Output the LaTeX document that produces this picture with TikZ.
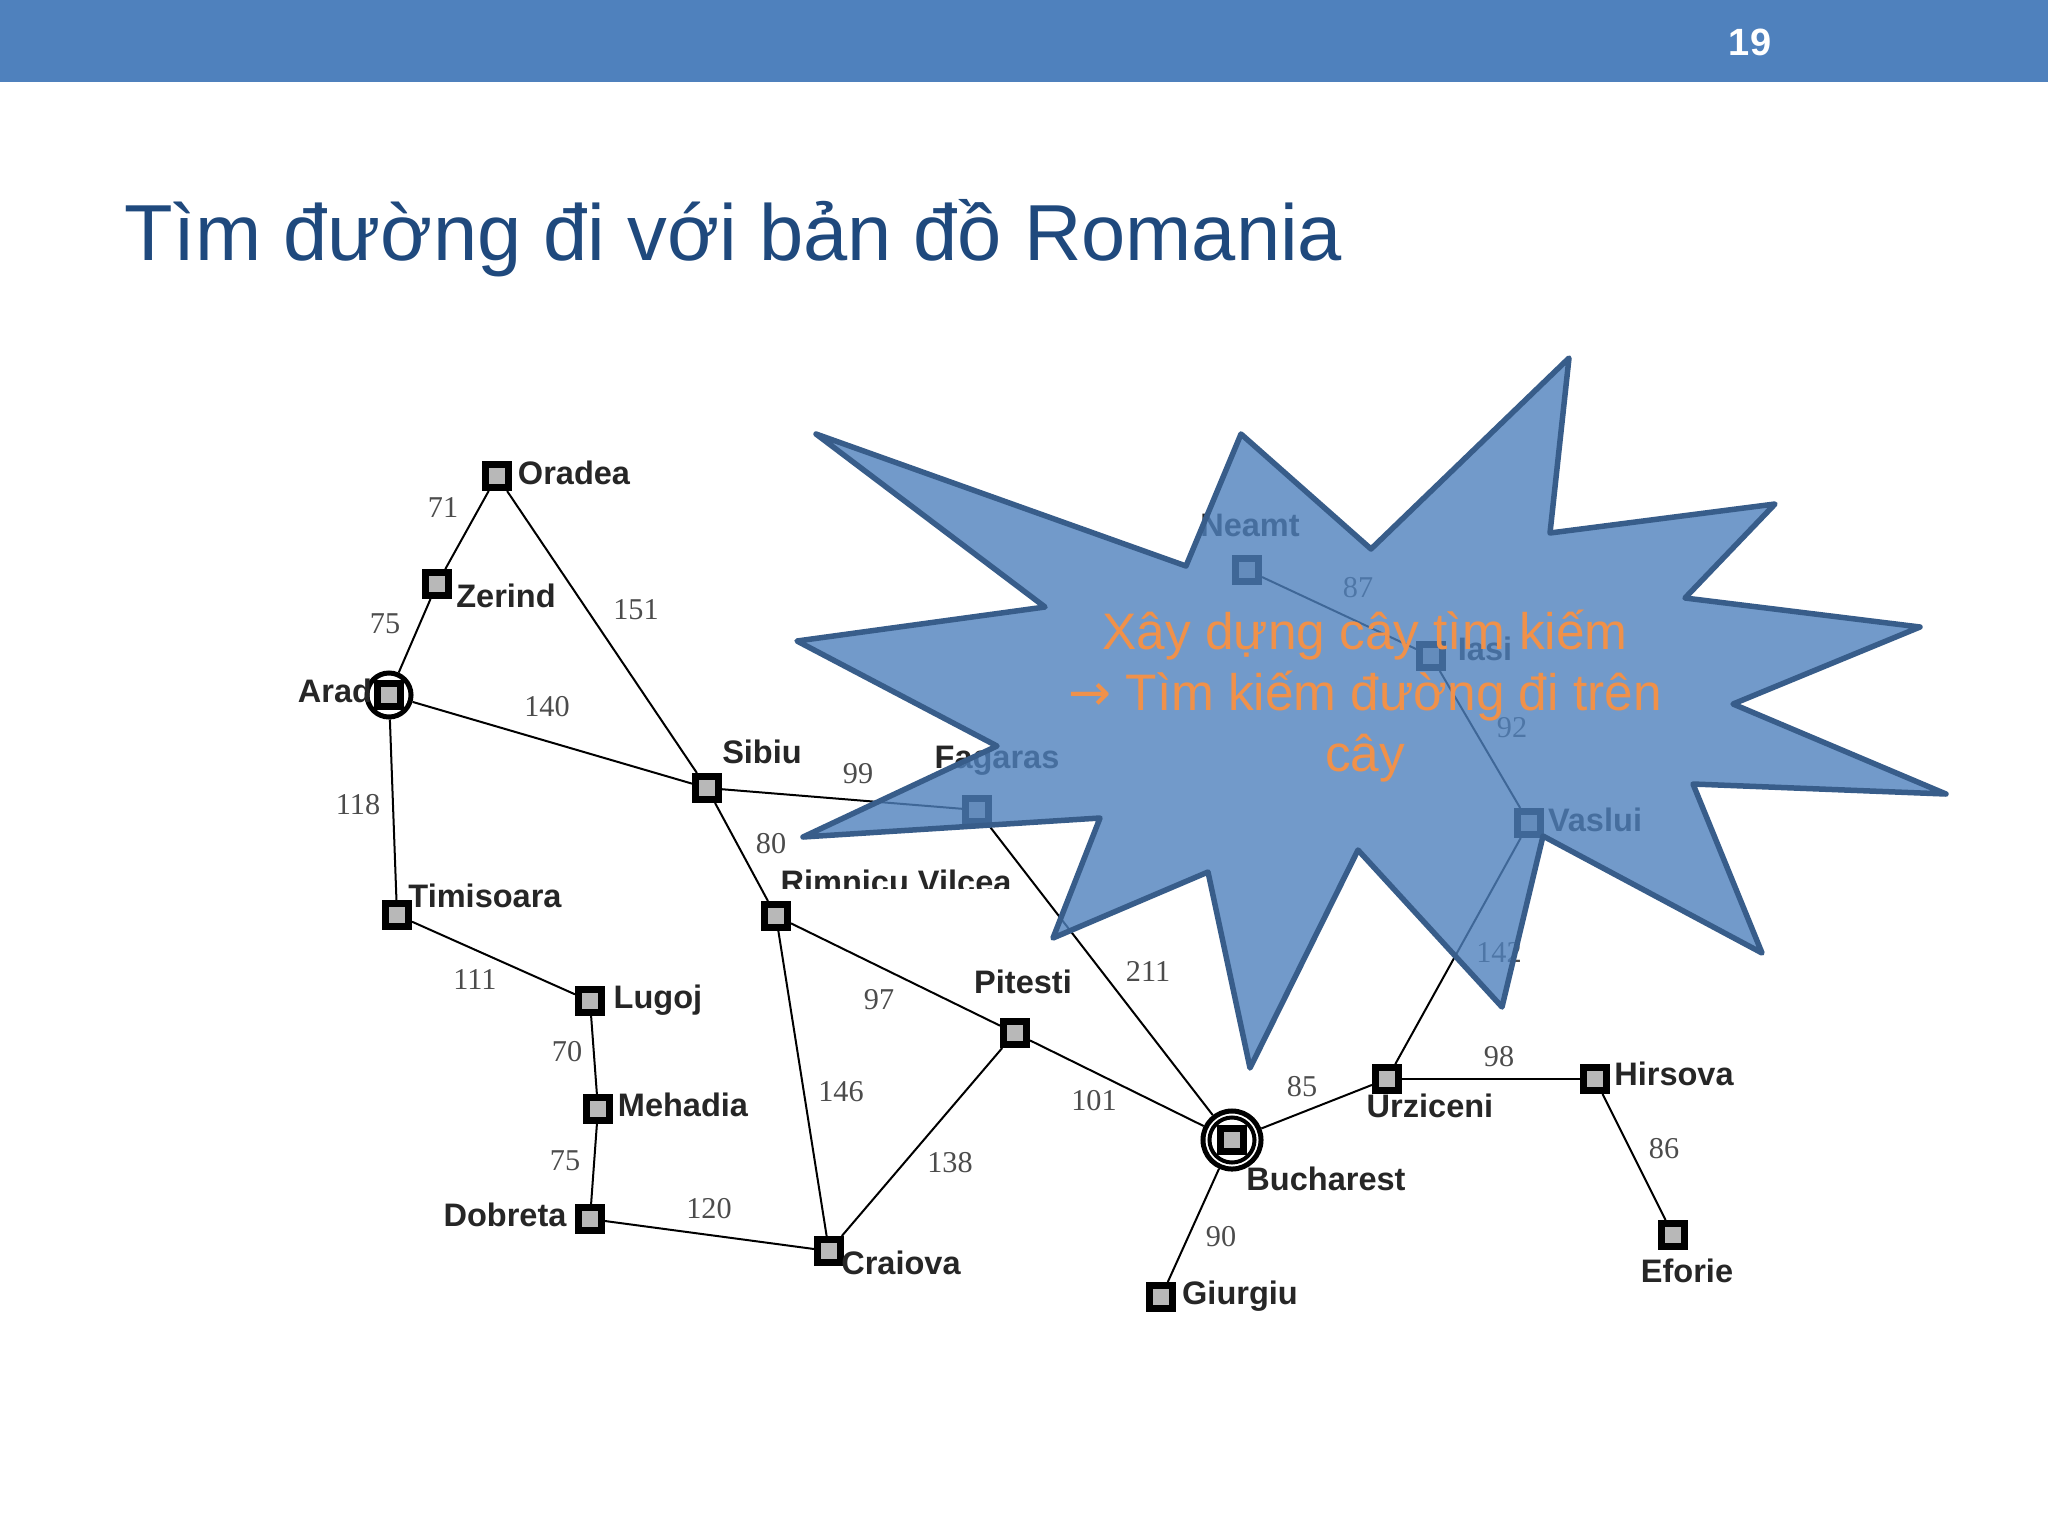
\documentclass[tikz,border=0pt]{standalone}
\usepackage{fontspec}
\setmainfont{Liberation Sans}
\newfontfamily\weightfont{Liberation Serif}
\newfontfamily\arrowfont{DejaVu Sans}
\definecolor{barblue}{HTML}{4F81BD}
\definecolor{titleblue}{HTML}{1F497D}
\definecolor{starline}{HTML}{385D8A}
\definecolor{startext}{HTML}{F0914A}
\definecolor{cellgray}{HTML}{B8B8B8}
\tikzset{
city node/.style={rectangle,draw=black,fill=cellgray,line width=.07cm,minimum size=.23cm,inner sep=0pt},
ring node/.style={circle,draw=black,line width=.05cm,inner sep=0pt},
city label/.style={font=\fontsize{9.25}{11}\selectfont\bfseries,text=black!85,inner sep=0pt},
weight label/.style={font=\fontsize{8.6}{10}\selectfont\weightfont,text=black!70,inner sep=0pt},
}
\begin{document}
\begin{tikzpicture}[x=.01cm,y=-.01cm]
\useasboundingbox (0,0) rectangle (2048,1536);
\fill[white] (0,0) rectangle (2048,1536);
\fill[barblue] (0,0) rectangle (2048,82);
\node[font=\fontsize{10.8}{12}\selectfont\bfseries,text=white,inner sep=0pt] (page) at (1750,42) {19};
\node[font=\fontsize{22.6}{26}\selectfont,text=titleblue,anchor=west,inner sep=0pt] (title) at (124,238) {Tìm đường đi với bản đồ Romania};
\begin{scope}
\node[ring node,minimum size=.44cm] (arad) at (389,695) {};
\node[ring node,minimum size=.58cm] (bucharest) at (1232,1140) {};
\node[ring node,minimum size=.45cm,line width=.04cm] (bucharest in) at (1232,1140) {};
\node[city node] (arad sq) at (389,695) {};
\node[city node] (bucharest sq) at (1232,1140) {};
\node[city node] (oradea) at (497,476) {};
\node[city node] (zerind) at (437,584) {};
\node[city node] (timisoara) at (397,915) {};
\node[city node] (sibiu) at (707,788) {};
\node[city node] (rimnicu) at (776,916) {};
\node[city node] (lugoj) at (590,1001) {};
\node[city node] (mehadia) at (598,1109) {};
\node[city node] (dobreta) at (590,1219) {};
\node[city node] (craiova) at (829,1251) {};
\node[city node] (pitesti) at (1015,1033) {};
\node[city node] (fagaras) at (977,810) {};
\node[city node] (neamt) at (1247,570) {};
\node[city node] (iasi) at (1431,656) {};
\node[city node] (vaslui) at (1529,823) {};
\node[city node] (urziceni) at (1387,1079) {};
\node[city node] (hirsova) at (1595,1079) {};
\node[city node] (eforie) at (1673,1235) {};
\node[city node] (giurgiu) at (1161,1297) {};
\end{scope}
\begin{scope}[line width=.02cm]
\draw (oradea) edge (zerind);
\draw (oradea) edge (sibiu);
\draw (zerind) edge (arad);
\draw (arad) edge (sibiu);
\draw (arad) edge (timisoara);
\draw (timisoara) edge (lugoj);
\draw (lugoj) edge (mehadia);
\draw (mehadia) edge (dobreta);
\draw (dobreta) edge (craiova);
\draw (sibiu) edge (fagaras);
\draw (sibiu) edge (rimnicu);
\draw (rimnicu) edge (pitesti);
\draw (rimnicu) edge (craiova);
\draw (craiova) edge (pitesti);
\draw (pitesti) edge (bucharest);
\draw (fagaras) edge (bucharest);
\draw (bucharest) edge (urziceni);
\draw (bucharest) edge (giurgiu);
\draw (urziceni) edge (hirsova);
\draw (urziceni) edge (vaslui);
\draw (hirsova) edge (eforie);
\draw (vaslui) edge (iasi);
\draw (iasi) edge (neamt);
\end{scope}
\begin{scope}[every node/.style={city label}]
\node (oradea text) at (574,473) {Oradea};
\node (zerind text) at (506,596) {Zerind};
\node (arad text) at (335,691) {Arad};
\node (timisoara text) at (485,896) {Timisoara};
\node (sibiu text) at (762,752) {Sibiu};
\node (fagaras text) at (997,761) {Fagaras};
\node (rimnicu text) at (896,882) {Rimnicu Vilcea};
\node (lugoj text) at (658,1000) {Lugoj};
\node (mehadia text) at (683,1105) {Mehadia};
\node (dobreta text) at (505,1215) {Dobreta};
\node (craiova text) at (901,1263) {Craiova};
\node (pitesti text) at (1023,982) {Pitesti};
\node (neamt text) at (1250,525) {Neamt};
\node (iasi text) at (1485,649) {Iasi};
\node (vaslui text) at (1595,820) {Vaslui};
\node (urziceni text) at (1430,1106) {Urziceni};
\node (hirsova text) at (1674,1074) {Hirsova};
\node (eforie text) at (1687,1271) {Eforie};
\node (bucharest text) at (1326,1179) {Bucharest};
\node (giurgiu text) at (1240,1296) {Giurgiu};
\end{scope}
%bottom of this label is cut off
\fill[white] (780,889) rectangle (1015,898);
\begin{scope}[every node/.style={weight label}]
\node (w1) at (443,508) {71};
\node (w2) at (385,624) {75};
\node (w3) at (636,610) {151};
\node (w4) at (547,707) {140};
\node (w5) at (358,805) {118};
\node (w6) at (475,980) {111};
\node (w7) at (858,774) {99};
\node (w8) at (771,844) {80};
\node (w9) at (879,1000) {97};
\node (w10) at (841,1092) {146};
\node (w11) at (1148,971) {211};
\node (w12) at (1094,1101) {101};
\node (w13) at (950,1163) {138};
\node (w14) at (567,1052) {70};
\node (w15) at (565,1161) {75};
\node (w16) at (709,1209) {120};
\node (w17) at (1302,1087) {85};
\node (w18) at (1499,1057) {98};
\node (w19) at (1664,1149) {86};
\node (w20) at (1221,1237) {90};
\node (w21) at (1358,588) {87};
\node (w22) at (1512,728) {92};
\node (w23) at (1499,952) {142};
\end{scope}
\draw[draw=starline,line width=.055cm,line join=round,fill=barblue,fill opacity=.8]
(816,434) -- (1186,566) -- (1241,434) -- (1371,549) -- (1569,358) -- (1550,533)
-- (1775,504) -- (1685,598) -- (1920,627) -- (1733,704) -- (1946,794) -- (1693,784)
-- (1762,953) -- (1543,836) -- (1502,1007) -- (1358,850) -- (1250,1068) -- (1208,872)
-- (1053,938) -- (1100,818) -- (803,837) -- (997,746) -- (797,641) -- (1045,607) -- cycle;
\node[font=\fontsize{14.6}{17.3}\selectfont,text=startext,align=center,inner sep=0pt] (star text) at (1365,696) {Xây dựng cây tìm kiếm\\{\arrowfont→} Tìm kiếm đường đi trên\\cây};
\end{tikzpicture}
\end{document}
